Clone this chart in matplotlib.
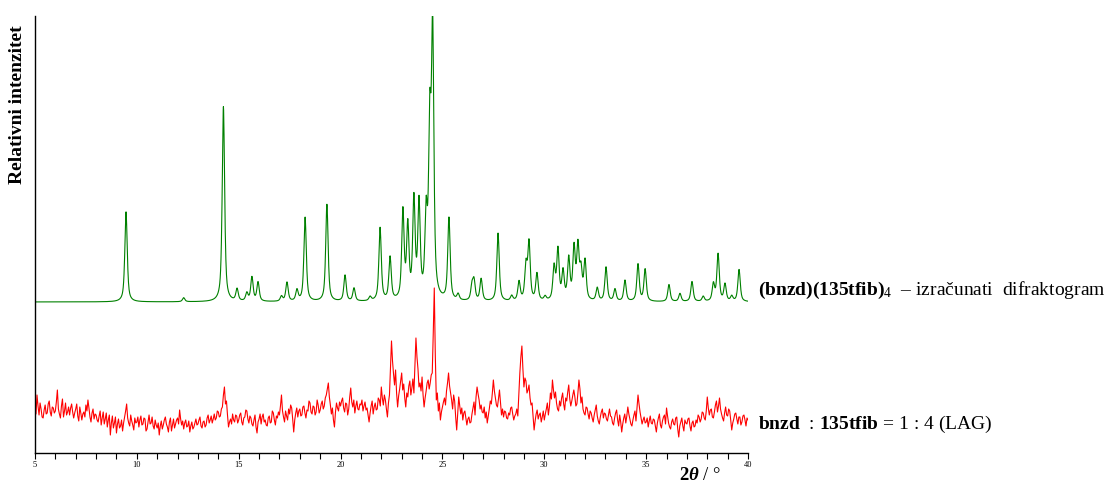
import numpy as np
import matplotlib.pyplot as plt

plt.rcParams["font.family"] = ["Liberation Serif", "DejaVu Serif"]
plt.rcParams["mathtext.fontset"] = "custom"
plt.rcParams["mathtext.rm"] = "Liberation Serif"
plt.rcParams["mathtext.bf"] = "Liberation Serif:bold"
plt.rcParams["mathtext.it"] = "Liberation Serif:italic"
plt.rcParams["mathtext.bfit"] = "Liberation Serif:bold:italic"

# calculated pattern: peak positions (2theta, deg) and heights (arb. units)
calc_pos = [9.47, 12.30, 14.25, 14.92, 15.40, 15.65, 15.95, 17.10, 17.37, 17.86,
            18.26, 19.33, 20.22, 20.66, 21.45, 21.94, 22.43, 23.06, 23.30, 23.60,
            23.85, 24.20, 24.38, 24.52, 25.32, 25.77, 26.45, 26.55, 26.90, 27.73,
            28.40, 28.76, 29.10, 29.25, 29.64, 30.04, 30.48, 30.67, 30.92, 31.20,
            31.46, 31.65, 31.80, 32.00, 32.60, 33.03, 33.47, 33.96, 34.60, 34.95,
            36.12, 36.66, 37.25, 37.80, 38.30, 38.53, 38.87, 39.20, 39.56]
calc_int = [90, 4, 195, 12, 8, 24, 19, 5, 19, 11,
            84, 97, 26, 13, 4, 73, 43, 88, 72, 98,
            94, 78, 160, 262, 82, 6, 14, 19, 22, 68,
            5, 19, 34, 57, 27, 4, 33, 50, 28, 41,
            51, 52, 28, 39, 13, 34, 12, 21, 37, 32,
            17, 8, 20, 5, 17, 47, 17, 5, 32]

# measured pattern (LAG product), 5-40 deg, step 0.05 deg
exp_start, exp_step = 5.0, 0.05
exp_int = [
    46, 39, 58, 47, 38, 50, 44, 36, 35, 43, 48, 39, 40, 49, 52, 41, 37, 46, 45, 40,
    42, 51, 63, 44, 39, 35, 47, 54, 36, 42, 50, 38, 41, 46, 38, 45, 49, 41, 35, 40,
    44, 49, 37, 32, 46, 40, 33, 39, 41, 36, 48, 42, 53, 45, 36, 31, 40, 44, 34, 39,
    38, 33, 31, 37, 42, 28, 35, 41, 29, 34, 40, 26, 33, 38, 18, 30, 37, 25, 30, 36,
    20, 29, 34, 25, 27, 33, 22, 30, 36, 42, 49, 35, 30, 27, 38, 32, 28, 23, 35, 30,
    31, 36, 26, 33, 37, 28, 29, 35, 34, 22, 24, 31, 38, 29, 30, 36, 27, 24, 33, 28,
    25, 30, 18, 27, 32, 24, 28, 33, 36, 29, 26, 21, 31, 35, 22, 28, 34, 25, 29, 33,
    35, 29, 43, 34, 28, 32, 24, 30, 33, 26, 27, 32, 21, 27, 31, 24, 26, 30, 34, 28,
    29, 33, 36, 27, 25, 31, 32, 26, 28, 35, 38, 30, 33, 37, 30, 34, 39, 33, 35, 42,
    41, 36, 37, 44, 46, 58, 66, 49, 52, 38, 26, 31, 34, 29, 39, 33, 31, 38, 37, 30,
    33, 38, 40, 31, 28, 35, 36, 43, 42, 34, 30, 37, 35, 29, 27, 33, 38, 26, 20, 31,
    34, 39, 29, 36, 39, 31, 33, 28, 27, 35, 37, 30, 31, 42, 40, 33, 28, 37, 35, 41,
    38, 47, 58, 42, 36, 31, 42, 37, 33, 44, 39, 48, 45, 34, 21, 33, 40, 45, 36, 42,
    44, 37, 38, 46, 47, 40, 35, 43, 42, 52, 50, 41, 39, 47, 46, 38, 41, 53, 48, 40,
    43, 49, 52, 44, 47, 55, 58, 64, 70, 56, 48, 39, 45, 33, 26, 41, 50, 45, 42, 51,
    47, 52, 55, 45, 41, 50, 49, 38, 44, 56, 65, 51, 46, 53, 40, 47, 52, 44, 43, 49,
    48, 53, 42, 47, 51, 43, 45, 38, 31, 40, 47, 52, 39, 46, 50, 43, 44, 55, 53, 47,
    66, 55, 48, 58, 53, 44, 36, 50, 58, 85, 112, 92, 79, 68, 83, 60, 46, 57, 64, 72,
    80, 63, 69, 55, 46, 60, 56, 67, 72, 58, 65, 74, 60, 88, 115, 96, 84, 66, 70, 62,
    76, 58, 46, 55, 62, 70, 73, 64, 70, 78, 80, 120, 165, 98, 53, 60, 42, 50, 33, 41,
    46, 51, 55, 48, 62, 70, 80, 67, 60, 53, 44, 58, 52, 36, 23, 40, 56, 47, 39, 45,
    33, 40, 42, 35, 28, 34, 36, 30, 31, 39, 45, 51, 38, 56, 66, 59, 53, 44, 48, 41,
    40, 46, 35, 41, 30, 37, 44, 52, 49, 60, 73, 62, 55, 48, 46, 54, 63, 50, 38, 44,
    36, 42, 41, 35, 34, 40, 38, 45, 46, 39, 33, 37, 39, 44, 37, 58, 80, 96, 107, 84,
    66, 75, 72, 60, 63, 68, 55, 48, 50, 36, 23, 32, 39, 43, 34, 38, 40, 31, 36, 42,
    33, 39, 44, 50, 38, 46, 60, 54, 73, 63, 55, 61, 50, 44, 42, 52, 47, 55, 60, 49,
    43, 55, 52, 61, 68, 54, 47, 52, 58, 63, 56, 47, 49, 60, 73, 64, 50, 56, 44, 40,
    38, 46, 45, 39, 34, 42, 40, 35, 31, 38, 43, 48, 37, 32, 29, 36, 41, 44, 35, 40,
    39, 34, 32, 38, 44, 37, 36, 30, 28, 35, 40, 43, 33, 27, 38, 31, 21, 29, 35, 39,
    30, 37, 46, 39, 34, 29, 27, 33, 38, 42, 32, 45, 58, 49, 41, 35, 29, 33, 36, 30,
    31, 35, 26, 32, 37, 30, 29, 34, 33, 27, 21, 30, 35, 39, 28, 25, 32, 36, 38, 29,
    45, 37, 30, 26, 24, 31, 34, 29, 28, 35, 36, 24, 16, 27, 31, 35, 27, 22, 33, 30,
    29, 34, 35, 27, 22, 30, 32, 26, 27, 33, 30, 38, 36, 31, 34, 41, 40, 35, 33, 42,
    56, 45, 38, 43, 44, 36, 35, 41, 48, 52, 41, 47, 55, 44, 39, 35, 32, 40, 46, 38,
    37, 44, 42, 33, 23, 30, 34, 39, 40, 34, 29, 36, 36, 28, 31, 37, 38, 33, 27, 35,
    33,
]

calc_offset = 151
fwhm = 0.14
eta = 0.7


def calc_profile(x):
    y = np.zeros_like(x)
    hw = fwhm / 2
    for p, h in zip(calc_pos, calc_int):
        d = x - p
        lor = 1 / (1 + (d / hw) ** 2)
        gau = np.exp(-np.log(2) * (d / hw) ** 2)
        y += h * (eta * lor + (1 - eta) * gau)
    return y


fig = plt.figure(figsize=(11.10, 4.83), dpi=100)
ax = fig.add_axes([0.0315, 0.0621, 0.6424, 0.905])

x_calc = np.arange(5, 40.0001, 0.01)
ax.plot(x_calc, calc_profile(x_calc) + calc_offset, color="#008000", lw=0.8)

x_exp = exp_start + exp_step * np.arange(len(exp_int))
ax.plot(x_exp, exp_int, color="#ff0000", lw=0.8)

ax.set_xlim(5, 40)
ax.set_ylim(0, 437)
ax.set_xticks(np.arange(5, 41, 5))
ax.set_xticks(np.arange(5, 41, 1), minor=True)
ax.tick_params(axis="x", which="both", direction="out", length=4, width=0.8,
               labelsize=6, pad=2)
ax.set_yticks([])
for side in ("top", "right"):
    ax.spines[side].set_visible(False)
for side in ("left", "bottom"):
    ax.spines[side].set_linewidth(1.0)

fig.text(0.016, 1 - 105 / 483, "Relativni intenzitet", rotation=90,
         fontsize=14, fontweight="bold", ha="center", va="center")
fig.text(0.612, 1 - 476 / 483, r"$\mathbf{2}\mathbfit{\theta}$ / °",
         fontsize=13.5, ha="left", va="center")

fig.text(758 / 1110, 1 - 290 / 483,
         r"$\mathbf{(bnzd)(135tfib)}_{4}$  – izračunati  difraktogram",
         fontsize=14, ha="left", va="center")
fig.text(758 / 1110, 1 - 424 / 483,
         r"$\mathbf{bnzd}$  : $\mathbf{135tfib}$ = 1 : 4 (LAG)",
         fontsize=14, ha="left", va="center")

fig.savefig("out.png", dpi=100)
